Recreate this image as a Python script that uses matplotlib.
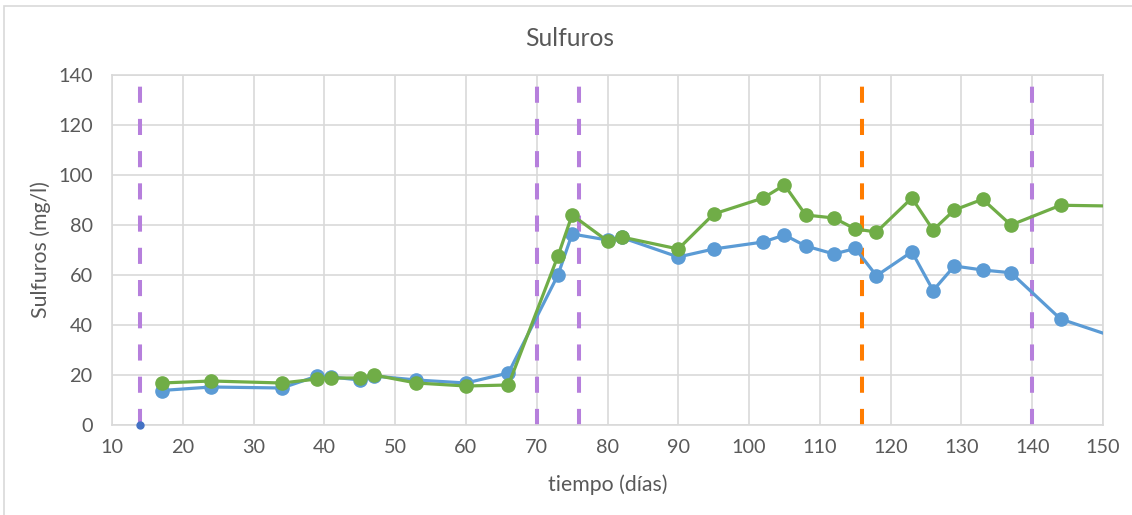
import matplotlib.pyplot as plt
from matplotlib.patches import Rectangle

# Sulfuros (mg/l) vs tiempo (dias)
dias = [17, 24, 34, 39, 41, 45, 47, 53, 60, 66, 73, 75, 80, 82, 90, 95,
        102, 105, 108, 112, 115, 118, 123, 126, 129, 133, 137, 144, 158]
serie_azul = [13.8, 15.2, 14.8, 19.6, 19.2, 18.0, 19.6, 18.0, 16.8, 20.8,
              60.0, 76.4, 74.0, 75.0, 67.2, 70.4, 73.2, 76.0, 71.6, 68.4,
              70.6, 59.7, 69.3, 53.8, 63.6, 62.0, 60.9, 42.4, 29.2]
serie_verde = [16.8, 17.6, 16.8, 18.4, 18.8, 18.8, 20.0, 16.8, 15.6, 16.0,
               67.6, 84.0, 73.6, 75.2, 70.4, 84.4, 90.8, 96.0, 84.0, 82.8,
               78.4, 77.2, 90.8, 78.0, 86.0, 90.3, 80.0, 87.9, 87.3]

eventos_morado = [14, 70, 76, 140]
eventos_naranja = [116]
punto_inicio = (14, 0)

xticks = list(range(10, 151, 10))
yticks = list(range(0, 141, 20))

plt.rcParams['font.family'] = ['Lato', 'DejaVu Sans']

fig = plt.figure(figsize=(11.32, 5.15), dpi=100)
ax = fig.add_axes([112 / 1132, 90 / 515, 991 / 1132, 350 / 515])

# thin chart border like the Excel chart area
fig.patches.append(Rectangle((4 / 1132, -0.1), 1.2, (515 - 6) / 515 + 0.1,
                             transform=fig.transFigure, fill=False,
                             edgecolor='#D9D9D9', linewidth=1.2))

for x in eventos_morado:
    ax.plot([x, x], [0, 140], color='#B67FDC', lw=2.9,
            dashes=(4, 4), zorder=1)
for x in eventos_naranja:
    ax.plot([x, x], [0, 140], color='#FF7C00', lw=2.9,
            dashes=(4, 4), zorder=1)

ax.plot(dias, serie_azul, color='#5B9BD5', lw=2.3, marker='o',
        markersize=9.5, zorder=3, clip_on=True)
ax.plot(dias, serie_verde, color='#70AD47', lw=2.3, marker='o',
        markersize=9.5, zorder=4, clip_on=True)
ax.plot([punto_inicio[0]], [punto_inicio[1]], 'o', color='#4472C4',
        markersize=5, zorder=5, clip_on=False)

ax.set_xlim(10, 150)
ax.set_ylim(0, 140)
ax.set_xticks(xticks)
ax.set_yticks(yticks)
ax.grid(True, color='#D9D9D9', lw=1.2)
ax.set_axisbelow(True)
ax.tick_params(length=0, labelsize=14.3, colors='#595959')
ax.tick_params(axis='x', pad=10)
ax.tick_params(axis='y', pad=14)
for s in ax.spines.values():
    s.set_color('#D9D9D9')
    s.set_linewidth(1.2)

fig.text(0.503, 1 - 38 / 515, 'Sulfuros', fontsize=17.7, color='#595959',
         ha='center', va='center')
ax.set_xlabel('tiempo (días)', fontsize=15.3, color='#595959', labelpad=13)
ax.set_ylabel('Sulfuros (mg/l)', fontsize=15.3, color='#595959', labelpad=5)

fig.savefig('out.png', dpi=100)
